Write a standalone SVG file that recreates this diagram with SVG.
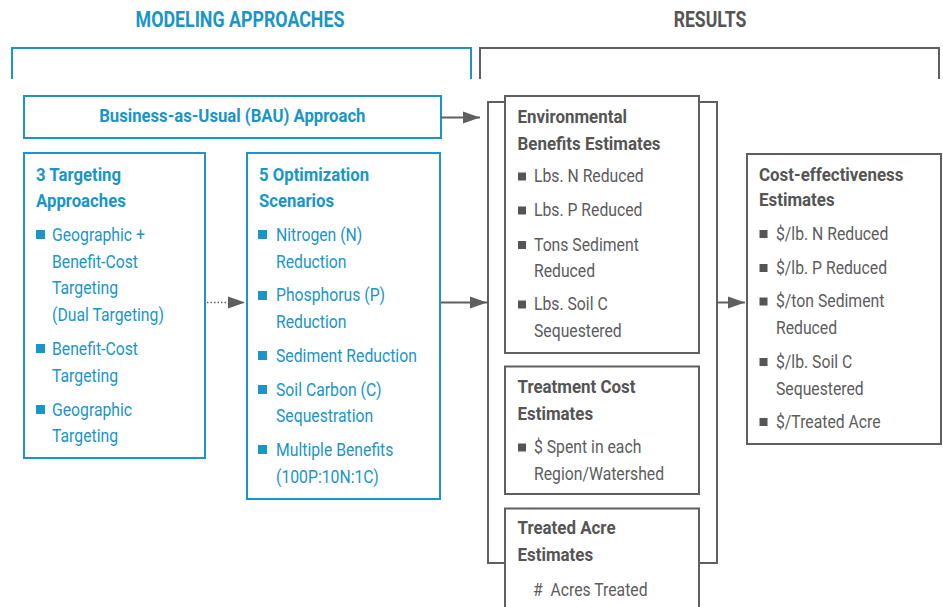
<svg xmlns="http://www.w3.org/2000/svg" width="943" height="607" viewBox="0 0 943 607">
  <style>
    text { font-family: "Roboto", "Liberation Sans", sans-serif; }
    .blue-box { fill: #ffffff; stroke: #1a95c7; stroke-width: 2; }
    .gray-box { fill: #ffffff; stroke: #5f5f5f; stroke-width: 2; }
    .bt { font-weight: 700; font-size: 18px; fill: #1a95c7; }
    .bi { font-weight: 400; font-size: 19px; fill: #1a95c7; }
    .gt { font-weight: 700; font-size: 18px; fill: #555555; }
    .gi { font-weight: 400; font-size: 19px; fill: #5c5c5c; }
    .bsq { fill: #1a95c7; }
    .gsq { fill: #555555; }
    .head { font-weight: 700; font-size: 22px; text-anchor: middle; }
    .link { stroke: #5f5f5f; stroke-width: 2; fill: none; }
  </style>
  <defs>
    <marker id="arrow" markerUnits="userSpaceOnUse" markerWidth="18" markerHeight="14" refX="17" refY="7" orient="auto">
      <path d="M0,1 L17,7 L0,13 Z" fill="#5f5f5f"/>
    </marker>
  </defs>

  <!-- section headings and brackets -->
  <g id="modeling-approaches-header">
    <g transform="translate(240 0) scale(0.81 1)">
      <text class="head" x="0" y="27" fill="#1a95c7">MODELING APPROACHES</text>
    </g>
    <path d="M12,79 V48 H471 V79" fill="none" stroke="#1a95c7" stroke-width="2"/>
  </g>
  <g id="results-header">
    <g transform="translate(710 0) scale(0.8 1)">
      <text class="head" x="0" y="27" fill="#555555">RESULTS</text>
    </g>
    <path d="M480,79 V48 H939 V79" fill="none" stroke="#5f5f5f" stroke-width="2"/>
  </g>

  <!-- BAU approach -->
  <g id="bau">
    <rect class="blue-box" x="24" y="96" width="417" height="42"/>
    <g transform="translate(232.3 0) scale(0.88 1)">
      <text class="bt" x="0" y="122.5" text-anchor="middle" style="font-size:19px">Business-as-Usual (BAU) Approach</text>
    </g>
  </g>

  <!-- 3 targeting approaches -->
  <g id="targeting">
    <rect class="blue-box" x="24" y="153" width="181" height="305"/>
    <g transform="translate(36 0) scale(0.93 1)">
      <text class="bt" x="0" y="181">3 Targeting</text>
      <text class="bt" x="0" y="207.5">Approaches</text>
    </g>
    <rect class="bsq" x="36" y="230" width="9" height="9"/>
    <rect class="bsq" x="36" y="344" width="9" height="9"/>
    <rect class="bsq" x="36" y="405" width="9" height="9"/>
    <g transform="translate(52 0) scale(0.83 1)">
      <text class="bi" x="0" y="241">Geographic +</text>
      <text class="bi" x="0" y="268">Benefit-Cost</text>
      <text class="bi" x="0" y="294.5">Targeting</text>
      <text class="bi" x="0" y="321">(Dual Targeting)</text>
      <text class="bi" x="0" y="355">Benefit-Cost</text>
      <text class="bi" x="0" y="382">Targeting</text>
      <text class="bi" x="0" y="416">Geographic</text>
      <text class="bi" x="0" y="442.5">Targeting</text>
    </g>
  </g>

  <!-- 5 optimization scenarios -->
  <g id="optimization">
    <rect class="blue-box" x="247" y="153" width="193" height="346"/>
    <g transform="translate(259 0) scale(0.93 1)">
      <text class="bt" x="0" y="181">5 Optimization</text>
      <text class="bt" x="0" y="207.5">Scenarios</text>
    </g>
    <rect class="bsq" x="258" y="230" width="9" height="9"/>
    <rect class="bsq" x="258" y="291" width="9" height="9"/>
    <rect class="bsq" x="258" y="351" width="9" height="9"/>
    <rect class="bsq" x="258" y="385" width="9" height="9"/>
    <rect class="bsq" x="258" y="445" width="9" height="9"/>
    <g transform="translate(276 0) scale(0.83 1)">
      <text class="bi" x="0" y="241">Nitrogen (N)</text>
      <text class="bi" x="0" y="268">Reduction</text>
      <text class="bi" x="0" y="301.5">Phosphorus (P)</text>
      <text class="bi" x="0" y="328.5">Reduction</text>
      <text class="bi" x="0" y="362">Sediment Reduction</text>
      <text class="bi" x="0" y="396">Soil Carbon (C)</text>
      <text class="bi" x="0" y="422.5">Sequestration</text>
      <text class="bi" x="0" y="456">Multiple Benefits</text>
      <text class="bi" x="0" y="483">(100P:10N:1C)</text>
    </g>
  </g>

  <!-- results panel holding the three estimate boxes -->
  <g id="results-panel">
    <rect class="gray-box" x="488" y="102" width="229" height="461"/>
  </g>

  <g id="environmental-benefits">
    <rect class="gray-box" x="505" y="96" width="194" height="257"/>
    <g transform="translate(517.5 0) scale(0.94 1)">
      <text class="gt" x="0" y="123">Environmental</text>
      <text class="gt" x="0" y="150">Benefits Estimates</text>
    </g>
    <rect class="gsq" x="518" y="172.5" width="8" height="8"/>
    <rect class="gsq" x="518" y="206.5" width="8" height="8"/>
    <rect class="gsq" x="518" y="241" width="8" height="8"/>
    <rect class="gsq" x="518" y="300.5" width="8" height="8"/>
    <g transform="translate(534 0) scale(0.83 1)">
      <text class="gi" x="0" y="182.5">Lbs. N Reduced</text>
      <text class="gi" x="0" y="216.5">Lbs. P Reduced</text>
      <text class="gi" x="0" y="251">Tons Sediment</text>
      <text class="gi" x="0" y="277">Reduced</text>
      <text class="gi" x="0" y="310.5">Lbs. Soil C</text>
      <text class="gi" x="0" y="337">Sequestered</text>
    </g>
  </g>

  <g id="treatment-cost">
    <rect class="gray-box" x="505" y="366.5" width="194" height="127.5"/>
    <g transform="translate(517.5 0) scale(0.94 1)">
      <text class="gt" x="0" y="393">Treatment Cost</text>
      <text class="gt" x="0" y="420">Estimates</text>
    </g>
    <rect class="gsq" x="518" y="443.5" width="8" height="8"/>
    <g transform="translate(534 0) scale(0.83 1)">
      <text class="gi" x="0" y="453">$ Spent in each</text>
      <text class="gi" x="0" y="480">Region/Watershed</text>
    </g>
  </g>

  <g id="treated-acre">
    <rect class="gray-box" x="505" y="508.5" width="194" height="120"/>
    <g transform="translate(517.5 0) scale(0.94 1)">
      <text class="gt" x="0" y="534.5">Treated Acre</text>
      <text class="gt" x="0" y="561.5">Estimates</text>
    </g>
    <g transform="translate(533 0) scale(0.83 1)">
      <text class="gi" x="0" y="596">#</text>
      <text class="gi" x="21" y="596">Acres Treated</text>
    </g>
  </g>

  <g id="cost-effectiveness">
    <rect class="gray-box" x="747" y="154" width="194" height="290"/>
    <g transform="translate(759 0) scale(0.94 1)">
      <text class="gt" x="0" y="181">Cost-effectiveness</text>
      <text class="gt" x="0" y="206.5">Estimates</text>
    </g>
    <rect class="gsq" x="759.5" y="230" width="8" height="8"/>
    <rect class="gsq" x="759.5" y="264" width="8" height="8"/>
    <rect class="gsq" x="759.5" y="297.5" width="8" height="8"/>
    <rect class="gsq" x="759.5" y="358" width="8" height="8"/>
    <rect class="gsq" x="759.5" y="418" width="8" height="8"/>
    <g transform="translate(776 0) scale(0.83 1)">
      <text class="gi" x="0" y="240">$/lb. N Reduced</text>
      <text class="gi" x="0" y="274">$/lb. P Reduced</text>
      <text class="gi" x="0" y="307.5">$/ton Sediment</text>
      <text class="gi" x="0" y="334">Reduced</text>
      <text class="gi" x="0" y="368">$/lb. Soil C</text>
      <text class="gi" x="0" y="395">Sequestered</text>
      <text class="gi" x="0" y="428">$/Treated Acre</text>
    </g>
  </g>

  <!-- connectors -->
  <g id="connectors">
    <line class="link" x1="441" y1="117.5" x2="480" y2="117.5" marker-end="url(#arrow)"/>
    <line x1="207" y1="302.5" x2="245" y2="302.5" stroke="#5f5f5f" stroke-width="1.3" stroke-dasharray="1.5 2" marker-end="url(#arrow)"/>
    <line class="link" x1="441" y1="302.5" x2="487" y2="302.5" marker-end="url(#arrow)"/>
    <line class="link" x1="717" y1="302.5" x2="745" y2="302.5" marker-end="url(#arrow)"/>
  </g>
</svg>
